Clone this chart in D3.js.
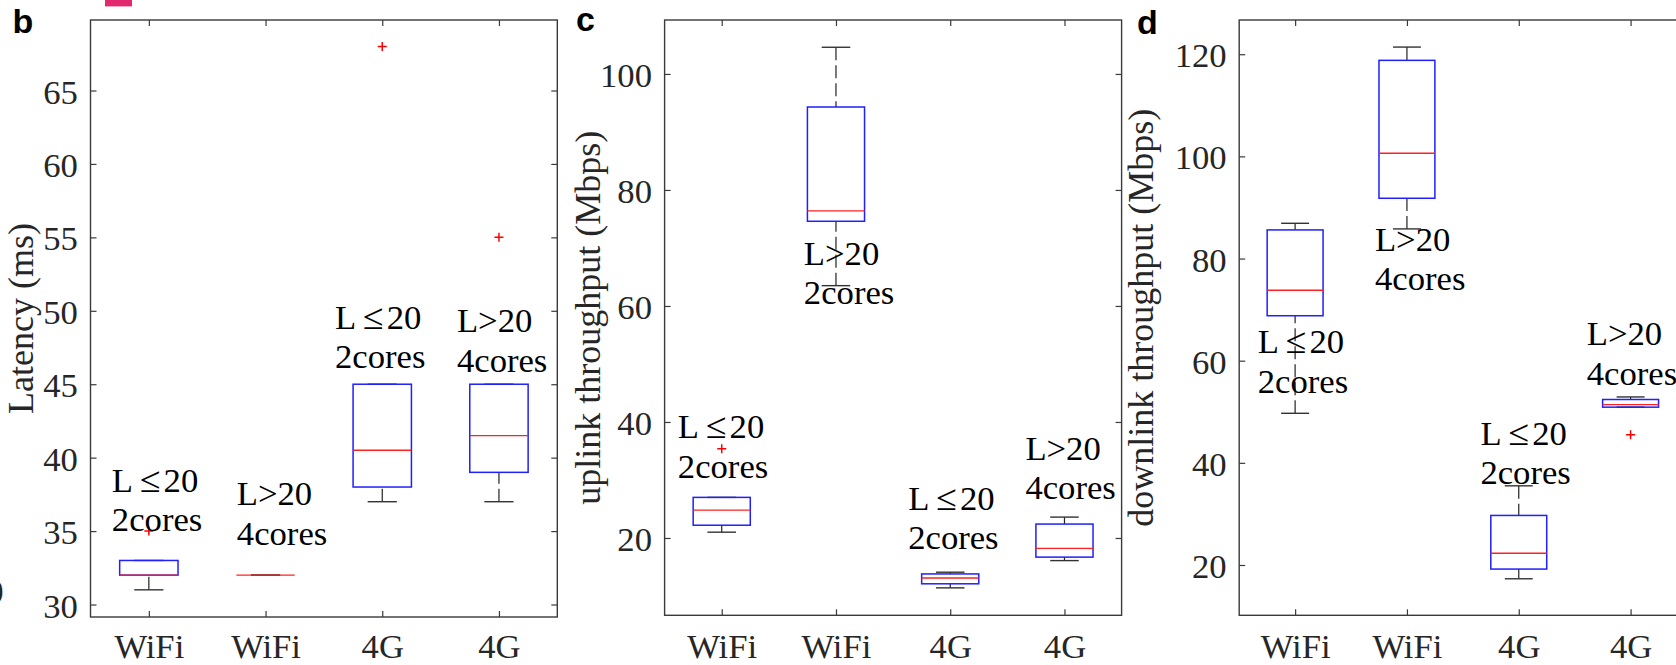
<!DOCTYPE html>
<html>
<head>
<meta charset="utf-8">
<script src="https://cdn.jsdelivr.net/npm/d3@7"></script>
<style>
  body { margin: 0; background: #fff; }
  svg { display: block; }
</style>
</head>
<body>
<div id="chart-area"></div>
<script>
// categories along the x axis (same for all three panels)
const categories = ["WiFi", "WiFi", "4G", "4G"]

// box stats per category: [lower whisker, q1, median, q3, upper whisker]
const latencyStats = [[31, 32, 32, 33, 33], [32, 32, 32, 32, 32], [37, 38, 40.5, 45, 45], [37, 39, 41.5, 45, 45]]
const latencyOutliers = [[35], [], [68], [55]]
const latencyGroups = [["L≤20", "2cores"], ["L>20", "4cores"], ["L≤20", "2cores"], ["L>20", "4cores"]]
const latencyTicks = [30, 35, 40, 45, 50, 55, 60, 65]
const latencyLim = [29.15, 69.8]

const uplinkStats = [[21, 22.2, 24.8, 27, 27], [63.5, 74.6, 76.4, 94.3, 104.6], [11.4, 12.1, 13.1, 13.8, 14.1], [16.1, 16.7, 18.2, 22.4, 23.6]]
const uplinkOutliers = [[35.4], [], [], []]
const uplinkGroups = [["L≤20", "2cores"], ["L>20", "2cores"], ["L≤20", "2cores"], ["L>20", "4cores"]]
const uplinkTicks = [20, 40, 60, 80, 100]
const uplinkLim = [6.67, 109.3]

const downlinkStats = [[49.7, 68.8, 73.8, 85.6, 86.9], [85.8, 91.8, 100.6, 118.8, 121.4], [17.3, 19.2, 22.3, 29.7, 35.5], [50.9, 50.9, 51.4, 52.4, 52.9]]
const downlinkOutliers = [[], [], [], [45.5]]
const downlinkGroups = [["L≤20", "2cores"], ["L>20", "4cores"], ["L≤20", "2cores"], ["L>20", "4cores"]]
const downlinkTicks = [20, 40, 60, 80, 100, 120]
const downlinkLim = [10.15, 126.7]

// where the two-line group labels sit, in data units (category index, value of first baseline)
const latencyAnchors = [[0.683, 37.67], [1.754, 36.76], [2.595, 48.77], [3.64, 48.54]]
const uplinkAnchors = [[0.616, 37.19], [1.719, 67.07], [2.632, 24.83], [3.658, 33.45]]
const downlinkAnchors = [[0.666, 61.47], [1.714, 81.57], [2.657, 43.5], [3.608, 62.98]]

const WIDTH = 1676
const HEIGHT = 665
const SERIF = "'Liberation Serif', 'Times New Roman', serif"
const FONT = 33          // tick labels and group labels
const LABEL_FONT = 36    // y axis titles
const STRETCH = 1.05     // the original figure is a bit wider than its glyphs
const TICK = 6
const AXIS_COLOR = "#3a3a3a"

const panels = [
    { letter: "b", left: 90.5, right: 557.3, top: 20, bottom: 617, lim: latencyLim, ticks: latencyTicks,
      stats: latencyStats, outliers: latencyOutliers, groups: latencyGroups, anchors: latencyAnchors,
      title: "Latency (ms)", titleX: 32.5, letterX: 12.5, letterY: 33 },
    { letter: "c", left: 664.6, right: 1121.6, top: 20, bottom: 615.3, lim: uplinkLim, ticks: uplinkTicks,
      stats: uplinkStats, outliers: uplinkOutliers, groups: uplinkGroups, anchors: uplinkAnchors,
      title: "uplink throughput (Mbps)", titleX: 600, letterX: 576, letterY: 31 },
    { letter: "d", left: 1239.2, right: 1686.5, top: 20, bottom: 615.3, lim: downlinkLim, ticks: downlinkTicks,
      stats: downlinkStats, outliers: downlinkOutliers, groups: downlinkGroups, anchors: downlinkAnchors,
      title: "downlink throughput (Mbps)", titleX: 1153, letterX: 1137, letterY: 34 }
]

const svg = d3.select("#chart-area").append("svg")
    .attr("width", WIDTH)
    .attr("height", HEIGHT)

// leftovers of the neighbouring figure parts that got cropped in
svg.append("rect")
    .attr("x", 105).attr("y", 0)
    .attr("width", 27).attr("height", 6.4)
    .attr("fill", "#e2296d")
svg.append("text")
    .attr("x", 3.5).attr("y", 603)
    .attr("text-anchor", "end")
    .attr("font-family", SERIF)
    .attr("font-size", FONT)
    .attr("fill", "#262626")
    .text("0")

panels.forEach(drawPanel)

function drawPanel(p) {
    const x = d3.scaleLinear().domain([0.5, categories.length + 0.5]).range([p.left, p.right])
    const y = d3.scaleLinear().domain(p.lim).range([p.bottom, p.top])
    const g = svg.append("g")
    const innerH = p.bottom - p.top
    const innerW = p.right - p.left

    // ---- axes (ticks point inward, like matlab) ----
    const xAxis = g.append("g")
        .attr("transform", `translate(0, ${p.bottom})`)
        .call(d3.axisBottom(x)
            .tickValues(d3.range(1, categories.length + 1))
            .tickFormat(i => categories[i - 1])
            .tickSizeInner(-TICK).tickSizeOuter(0))
    xAxis.selectAll("text")
        .attr("y", 658 - p.bottom)
        .attr("dy", 0)

    g.append("g")
        .attr("transform", `translate(0, ${p.top})`)
        .call(d3.axisTop(x).tickValues(d3.range(1, categories.length + 1))
            .tickFormat("").tickSizeInner(-TICK).tickSizeOuter(0))

    const yAxis = g.append("g")
        .attr("transform", `translate(${p.left}, 0)`)
        .call(d3.axisLeft(y).tickValues(p.ticks)
            .tickSizeInner(-TICK).tickSizeOuter(0).tickPadding(12))
    yAxis.selectAll("text").attr("dy", "0.38em")

    g.append("g")
        .attr("transform", `translate(${p.right}, 0)`)
        .call(d3.axisRight(y).tickValues(p.ticks)
            .tickFormat("").tickSizeInner(-TICK).tickSizeOuter(0))

    g.selectAll(".domain").remove()
    g.selectAll(".tick line").attr("stroke", AXIS_COLOR).attr("stroke-width", 1.2)
    g.selectAll(".tick text")
        .attr("font-family", SERIF)
        .attr("font-size", FONT)
        .attr("fill", "#262626")
        .attr("transform", `scale(${STRETCH},1)`)

    // axes box
    g.append("rect")
        .attr("x", p.left).attr("y", p.top)
        .attr("width", innerW).attr("height", innerH)
        .attr("fill", "none")
        .attr("stroke", AXIS_COLOR)
        .attr("stroke-width", 1.4)

    // y axis title
    g.append("text")
        .attr("transform", `translate(${p.titleX}, ${(p.top + p.bottom) / 2}) rotate(-90)`)
        .attr("text-anchor", "middle")
        .attr("font-family", SERIF)
        .attr("font-size", LABEL_FONT)
        .attr("fill", "#262626")
        .text(p.title)

    // panel letter
    svg.append("text")
        .attr("x", p.letterX).attr("y", p.letterY)
        .attr("font-family", "'Liberation Sans', Arial, sans-serif")
        .attr("font-weight", "bold")
        .attr("font-size", 34)
        .attr("fill", "#000")
        .text(p.letter)

    // ---- boxes ----
    const boxHalf = 0.25
    const capHalf = 0.125
    const boxes = g.selectAll(".box")
        .data(p.stats)
        .enter().append("g")
        .attr("class", "box")

    // whiskers, drawn from the cap towards the box so the dashes start at the cap
    boxes.append("line")
        .attr("x1", (d, i) => x(i + 1)).attr("x2", (d, i) => x(i + 1))
        .attr("y1", d => y(d[4])).attr("y2", d => y(d[3]))
        .attr("stroke", "#222").attr("stroke-width", 1.2)
        .attr("stroke-dasharray", "13,5")
    boxes.append("line")
        .attr("x1", (d, i) => x(i + 1)).attr("x2", (d, i) => x(i + 1))
        .attr("y1", d => y(d[0])).attr("y2", d => y(d[1]))
        .attr("stroke", "#222").attr("stroke-width", 1.2)
        .attr("stroke-dasharray", "13,5")

    // caps
    ;[0, 4].forEach(k => {
        boxes.append("line")
            .attr("x1", (d, i) => x(i + 1 - capHalf)).attr("x2", (d, i) => x(i + 1 + capHalf))
            .attr("y1", d => y(d[k])).attr("y2", d => y(d[k]))
            .attr("stroke", "#333").attr("stroke-width", 1.4)
    })

    // box
    boxes.append("rect")
        .attr("x", (d, i) => x(i + 1 - boxHalf))
        .attr("width", (d, i) => x(i + 1 + boxHalf) - x(i + 1 - boxHalf))
        .attr("y", d => y(d[3]))
        .attr("height", d => y(d[1]) - y(d[3]))
        .attr("fill", "none")
        .attr("stroke", "#1f1fff")
        .attr("stroke-width", 1.5)

    // median
    boxes.append("line")
        .attr("x1", (d, i) => x(i + 1 - boxHalf)).attr("x2", (d, i) => x(i + 1 + boxHalf))
        .attr("y1", d => y(d[2])).attr("y2", d => y(d[2]))
        .attr("stroke", "#ff2020").attr("stroke-width", 1.4)

    // outliers as red plus signs
    const pts = []
    p.outliers.forEach((vals, i) => vals.forEach(v => pts.push({ i: i + 1, v })))
    g.selectAll(".outlier")
        .data(pts)
        .enter().append("path")
        .attr("class", "outlier")
        .attr("d", d => `M${x(d.i) - 4.5},${y(d.v)}h9M${x(d.i)},${y(d.v) - 4.5}v9`)
        .attr("stroke", "#ff0000")
        .attr("stroke-width", 1.5)
        .attr("fill", "none")

    // two-line group labels (the \leq sign is a touch bigger, like tex draws it)
    const notes = g.selectAll(".note")
        .data(p.groups)
        .enter().append("g")
        .attr("class", "note")
        .attr("transform", (d, i) => `translate(${x(p.anchors[i][0])}, ${y(p.anchors[i][1])}) scale(${STRETCH},1)`)
    const noteText = notes.append("text")
        .attr("font-family", SERIF)
        .attr("font-size", FONT)
        .attr("fill", "#000")
    noteText.each(function(lines) {
        const t = d3.select(this)
        lines.forEach((line, k) => {
            const row = t.append("tspan").attr("x", 0).attr("y", k * 39.5)
            if (line.includes("≤")) {
                const [a, b] = line.split("≤")
                row.append("tspan").text(a + "\u2009")
                row.append("tspan").attr("font-size", 36).text("≤")
                row.append("tspan").text("\u200a" + b)
            } else {
                row.text(line)
            }
        })
    })
}
</script>
</body>
</html>
